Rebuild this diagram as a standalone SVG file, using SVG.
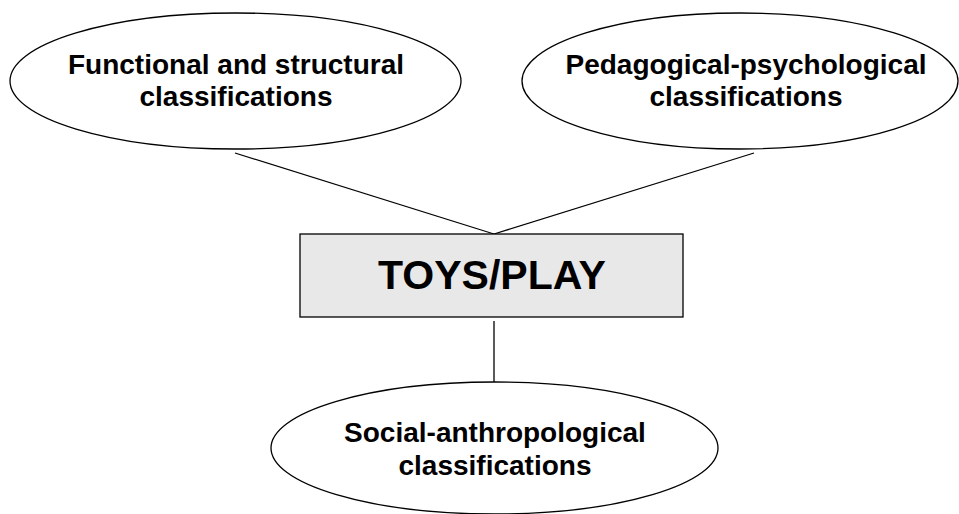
<svg xmlns="http://www.w3.org/2000/svg" width="959" height="514" viewBox="0 0 959 514">
<style>
.shape{fill:#fff;stroke:#000;stroke-width:1.3}
.box{fill:#e8e8e8;stroke:#000;stroke-width:1.3}
.lbl{font-family:"Liberation Sans",Arial,sans-serif;font-weight:bold;font-size:28px;text-anchor:middle;fill:#000}
.big{font-size:41px}
.conn{stroke:#000;stroke-width:1.3;fill:none}
</style>
<rect width="959" height="514" fill="#fff"/>
<g id="connectors">
<line class="conn" x1="235" y1="153" x2="494" y2="234"/>
<line class="conn" x1="754" y1="153" x2="494" y2="234"/>
<line class="conn" x1="494" y1="321" x2="494" y2="382"/>
</g>
<g id="functional">
<ellipse class="shape" cx="235.5" cy="81" rx="225.5" ry="68"/>
<text class="lbl" x="236" y="74">Functional and structural</text>
<text class="lbl" x="236" y="106">classifications</text>
</g>
<g id="pedagogical">
<ellipse class="shape" cx="740" cy="81" rx="218" ry="68"/>
<text class="lbl" x="746" y="74">Pedagogical-psychological</text>
<text class="lbl" x="746" y="106">classifications</text>
</g>
<g id="toys">
<rect class="box" x="300" y="234" width="383" height="83"/>
<text class="lbl big" x="492" y="289">TOYS/PLAY</text>
</g>
<g id="social">
<ellipse class="shape" cx="494.5" cy="448" rx="223.5" ry="66"/>
<text class="lbl" x="495" y="442">Social-anthropological</text>
<text class="lbl" x="495" y="475">classifications</text>
</g>
</svg>
